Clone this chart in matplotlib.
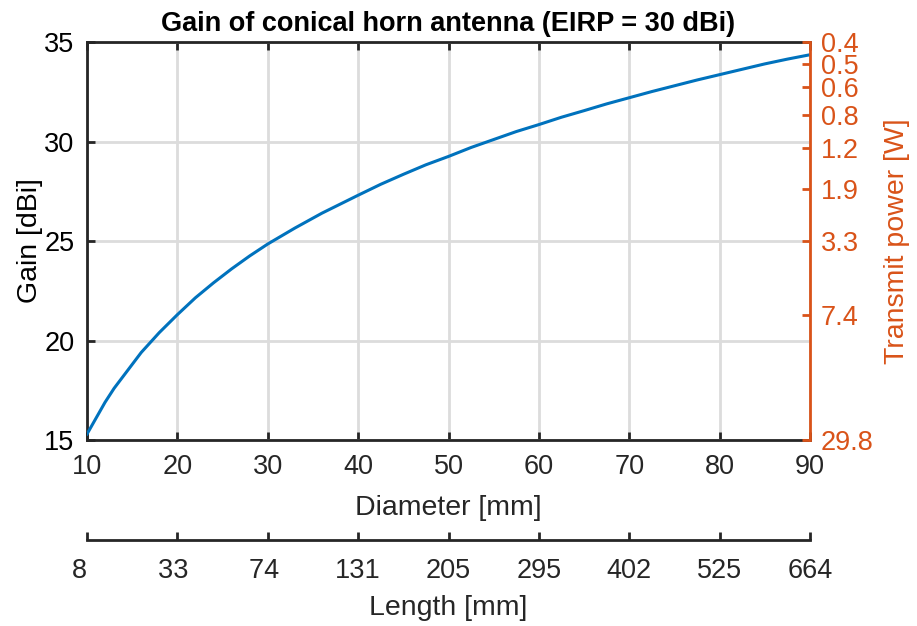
import numpy as np
import matplotlib
matplotlib.use('Agg')
import matplotlib.pyplot as plt

plt.rcParams['font.family'] = ['Liberation Sans', 'DejaVu Sans']

# gain curve
diameter = [10, 11, 12, 13, 14, 15, 16, 17, 18, 19, 20, 22, 24, 26, 28, 30, 33, 36, 40,
            42.5, 45, 47.5, 50, 52.5, 55, 57.5, 60, 62.5, 65, 67.5, 70, 72.5, 75, 77.5,
            80, 82.5, 85, 87.5, 90]
gain = [15.3, 16.1, 16.9, 17.6, 18.2, 18.8, 19.4, 19.9, 20.4, 20.85, 21.3, 22.15, 22.9,
        23.6, 24.25, 24.85, 25.65, 26.4, 27.3, 27.85, 28.35, 28.83, 29.25, 29.7, 30.1,
        30.5, 30.85, 31.22, 31.55, 31.89, 32.2, 32.51, 32.8, 33.09, 33.36, 33.63, 33.9,
        34.14, 34.36]

# right axis (transmit power) ticks, placed at the gain they line up with
power_tick_gain = [35, 33.9, 32.75, 31.35, 29.65, 27.6, 25.0, 21.3, 15]
power_labels = ['0.4', '0.5', '0.6', '0.8', '1.2', '1.9', '3.3', '7.4', '29.8']

# second x axis: horn length at each diameter tick
diam_ticks = [10, 20, 30, 40, 50, 60, 70, 80, 90]
lengths = [8, 33, 74, 131, 205, 295, 402, 525, 664]

blue = '#0072BD'
orange = '#D95319'
dark = '#262626'
fs = 19.5

fig = plt.figure(figsize=(9.17, 6.26), dpi=100)
ax = fig.add_axes([0.0949, 0.2971, 0.7884, 0.6358])

ax.plot(diameter, gain, color=blue, lw=2.2, zorder=3)
ax.set_xlim(10, 90)
ax.set_ylim(15, 35)
ax.set_xticks(diam_ticks)
ax.set_yticks([15, 20, 25, 30, 35])
ax.grid(True, color='#dcdcdc', lw=2)
ax.set_axisbelow(True)
ax.tick_params(direction='in', length=6, width=2, colors=dark, labelsize=fs,
               top=True, labelcolor='black')
ax.tick_params(axis='y', pad=9)
ax.tick_params(axis='x', pad=10, labelcolor=dark)
for s in ['left', 'bottom', 'top']:
    ax.spines[s].set_linewidth(2)
    ax.spines[s].set_color(dark)
ax.spines['right'].set_visible(False)
ax.set_xlabel('Diameter [mm]', fontsize=20.5, color=dark, labelpad=11)
ax.set_ylabel('Gain [dBi]', fontsize=20.5, color='black', labelpad=1)
ax.set_title('Gain of conical horn antenna (EIRP = 30 dBi)', fontsize=19.5,
             fontweight='bold', pad=8)

ax2 = ax.twinx()
ax2.set_ylim(15, 35)
ax2.set_yticks(power_tick_gain)
ax2.set_yticklabels(power_labels)
ax2.tick_params(axis='y', direction='in', length=6, width=2, colors=orange,
                labelsize=fs, pad=8)
for s in ['left', 'bottom', 'top']:
    ax2.spines[s].set_visible(False)
ax2.spines['right'].set_color(orange)
ax2.spines['right'].set_linewidth(2)
ax2.set_ylabel('Transmit power [W]', fontsize=20.5, color=orange, labelpad=7)

# length axis below
ax3 = fig.add_axes([0.0949, 0.1374, 0.7884, 0.0001])
ax3.set_xlim(10, 90)
ax3.set_xticks(diam_ticks)
ax3.set_xticklabels([f'{v:<3}' for v in lengths])
ax3.set_yticks([])
for s in ['left', 'right', 'top']:
    ax3.spines[s].set_visible(False)
ax3.spines['bottom'].set_linewidth(2)
ax3.spines['bottom'].set_color(dark)
ax3.tick_params(axis='x', direction='in', length=6, width=2, colors=dark,
                labelsize=fs, pad=13)
ax3.patch.set_visible(False)
ax3.set_xlabel('Length [mm]', fontsize=20.5, color=dark, labelpad=8)

fig.savefig('out.png', dpi=100)
